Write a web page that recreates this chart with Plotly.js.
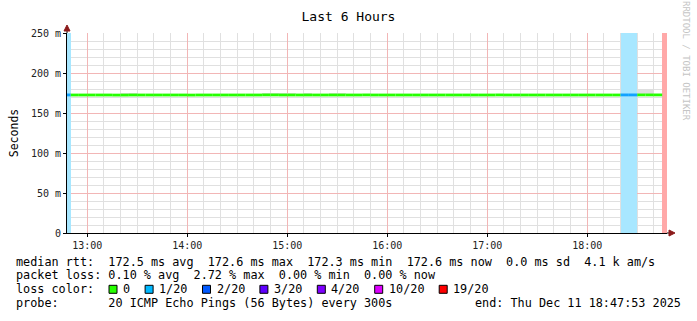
<!DOCTYPE html>
<html>
<head>
<meta charset="utf-8">
<script src="https://cdn.plot.ly/plotly-3.0.1.min.js"></script>
<style>html,body{margin:0;padding:0;background:#fff;}#chart{width:697px;height:321px;}</style>
</head>
<body>
<div id="chart"></div>
<script>
// ---- data ----
const day = '2025-12-11';
const stepEnd = [
  '12:50','12:55','13:00','13:05','13:10','13:15','13:20','13:25','13:30','13:35','13:40','13:45',
  '13:50','13:55','14:00','14:05','14:10','14:15','14:20','14:25','14:30','14:35','14:40','14:45',
  '14:50','14:55','15:00','15:05','15:10','15:15','15:20','15:25','15:30','15:35','15:40','15:45',
  '15:50','15:55','16:00','16:05','16:10','16:15','16:20','16:25','16:30','16:35','16:40','16:45',
  '16:50','16:55','17:00','17:05','17:10','17:15','17:20','17:25','17:30','17:35','17:40','17:45',
  '17:50','17:55','18:00','18:05','18:10','18:15','18:20','18:25','18:30','18:35','18:40','18:45',
  '18:50'
];
const medianMs = [
  172.6,172.5,172.5,172.5,172.5,172.5,172.4,172.4,172.5,172.5,172.5,172.5,
  172.5,172.5,172.5,172.4,172.5,172.5,172.5,172.5,172.5,172.5,172.5,172.5,
  172.6,172.6,172.5,172.5,172.5,172.5,172.5,172.5,172.5,172.5,172.5,172.5,
  172.6,172.5,172.5,172.5,172.5,172.5,172.5,172.5,172.5,172.5,172.5,172.5,
  172.5,172.5,172.5,172.5,172.6,172.5,172.5,172.5,172.5,172.5,172.5,172.5,
  172.5,172.5,172.5,172.5,172.5,172.5,172.5,172.6,172.6,172.6,172.6,172.6,
  null
];
const pingMinMs = [
  172.3,172.3,172.3,172.3,172.3,172.3,172.3,172.3,172.3,172.3,172.3,172.3,
  172.3,172.3,172.3,172.3,172.3,172.3,172.3,172.3,172.3,172.3,172.3,172.3,
  172.3,172.3,172.3,172.3,172.3,172.3,172.3,172.3,172.3,172.3,172.3,172.3,
  172.3,172.3,172.3,172.3,172.3,172.3,172.3,172.3,172.3,172.3,172.3,172.3,
  172.3,172.3,172.3,172.3,172.3,172.3,172.3,172.3,172.3,172.3,172.3,172.3,
  172.3,172.3,172.3,172.3,172.3,172.3,172.3,172.3,172.3,172.3,172.3,172.3,
  null
];
const pingMaxMs = [
  172.8,172.8,172.8,172.8,172.8,172.8,172.8,174.5,174.5,172.8,172.8,172.8,
  172.8,174.2,174.2,172.8,172.8,172.8,172.8,172.8,172.8,172.8,172.8,172.8,
  174.5,174.5,174.5,174.5,172.8,174.5,174.2,172.8,174.8,174.8,172.8,172.8,
  172.8,174.2,174.2,172.8,172.8,172.8,172.8,172.8,172.8,172.8,172.8,172.8,
  172.8,172.8,172.8,172.8,174.2,172.8,172.8,172.8,172.8,172.8,172.8,172.8,
  172.8,172.8,172.8,172.8,172.8,172.8,172.8,172.8,172.8,180.0,180.0,172.8,
  null
];
const lossCount = [
  1,0,0,0,0,0,0,0,0,0,0,0,
  0,0,0,0,0,0,0,0,0,0,0,0,
  0,0,0,0,0,0,0,0,0,0,0,0,
  0,0,0,0,0,0,0,0,0,0,0,0,
  0,0,0,0,0,0,0,0,0,0,0,0,
  0,0,0,0,0,0,0,1,1,0,0,0,
  19
];
const lossLevels = [0, 1, 2, 3, 4, 10, 19];
const lossLabels = ['0', '1/20', '2/20', '3/20', '4/20', '10/20', '19/20'];
const lossColors = ['#26ff00', '#00b8ff', '#0059ff', '#5e00ff', '#7e00ff', '#dd00ff', '#ff0000'];
const yTickVals = [0, 50, 100, 150, 200, 250];
const yTickText = ['0', '50 m', '100 m', '150 m', '200 m', '250 m'];
const legendLines = [
  'median rtt:  172.5 ms avg  172.6 ms max  172.3 ms min  172.6 ms now  0.0 ms sd  4.1 k am/s',
  'packet loss: 0.10 % avg  2.72 % max  0.00 % min  0.00 % now',
  'loss color:',
  'probe:       20 ICMP Echo Pings (56 Bytes) every 300s'
];
const endText = 'end: Thu Dec 11 18:47:53 2025';

// ---- helpers ----
const STEP = 300000;
function toMs(hm) { const p = hm.split(':'); return Date.UTC(2025, 11, 11, +p[0], +p[1]); }
function fmt(ms) {
  const d = new Date(ms);
  const z = n => String(n).padStart(2, '0');
  return d.getUTCFullYear() + '-' + z(d.getUTCMonth() + 1) + '-' + z(d.getUTCDate()) + ' ' +
    z(d.getUTCHours()) + ':' + z(d.getUTCMinutes()) + ':' + z(d.getUTCSeconds());
}
function lossIdx(c) { let k = 0; for (let i = 0; i < lossLevels.length; i++) if (c >= lossLevels[i]) k = i; return k; }
function tint(hex, a) {
  const r = parseInt(hex.substr(1, 2), 16), g = parseInt(hex.substr(3, 2), 16), b = parseInt(hex.substr(5, 2), 16);
  const f = v => Math.round(255 - a * (255 - v));
  return 'rgb(' + f(r) + ',' + f(g) + ',' + f(b) + ')';
}

const traces = [];

// loss background bars
const lb = { x: [], y: [], base: [], width: [], color: [] };
stepEnd.forEach((t, i) => {
  if (lossCount[i] > 0) {
    lb.x.push(fmt(toMs(t) - STEP / 2)); lb.y.push(250); lb.base.push(0); lb.width.push(STEP);
    lb.color.push(tint(lossColors[lossIdx(lossCount[i])], 0.34));
  }
});
traces.push({ type: 'bar', x: lb.x, y: lb.y, base: lb.base, width: lb.width,
  marker: { color: lb.color, line: { width: 0 } }, hoverinfo: 'skip', showlegend: false });

// smoke
const sm = { x: [], y: [], base: [], width: [] };
stepEnd.forEach((t, i) => {
  if (pingMinMs[i] != null && pingMaxMs[i] != null) {
    sm.x.push(fmt(toMs(t) - STEP / 2)); sm.base.push(pingMinMs[i]); sm.y.push(pingMaxMs[i] - pingMinMs[i]); sm.width.push(STEP);
  }
});
traces.push({ type: 'bar', x: sm.x, y: sm.y, base: sm.base, width: sm.width,
  marker: { color: '#dedede', line: { width: 0 } }, hoverinfo: 'skip', showlegend: false });

// median line segments coloured by loss
lossLevels.forEach((lv, k) => {
  const xs = [], ys = [];
  stepEnd.forEach((t, i) => {
    if (medianMs[i] == null || lossIdx(lossCount[i]) !== k) return;
    const e = toMs(t);
    xs.push(fmt(e - STEP), fmt(e), null); ys.push(medianMs[i], medianMs[i], null);
  });
  if (xs.length) traces.push({ type: 'scatter', mode: 'lines', x: xs, y: ys,
    line: { color: k === 1 ? '#12a2ff' : lossColors[k], width: 2.8 }, hoverinfo: 'skip', showlegend: false, connectgaps: false });
});

// ---- layout ----
const W = 697, H = 321, L = 67, R = 667, T = 33, B = 233;
const px = x => (x - L) / (R - L);
const py = y => (B - y) / (B - T);
const MONO = 'DejaVu Sans Mono';
const LF = 11.8;

const annotations = [];
const lineY = [261.5, 275.3, 289.3, 303.3];
legendLines.forEach((s, i) => {
  annotations.push({ xref: 'paper', yref: 'paper', x: px(14), y: py(lineY[i]), xanchor: 'left', yanchor: 'middle',
    text: s.replace(/ /g, '&nbsp;'), showarrow: false, font: { family: MONO, size: LF, color: '#000' } });
});
annotations.push({ xref: 'paper', yref: 'paper', x: px(683), y: py(lineY[3]), xanchor: 'right', yanchor: 'middle',
  text: endText, showarrow: false, font: { family: MONO, size: LF, color: '#000' } });
annotations.push({ xref: 'paper', yref: 'paper', x: px(686), y: py(61), xanchor: 'center', yanchor: 'middle', textangle: 90,
  text: 'RRDTOOL / TOBI OETIKER', showarrow: false, font: { family: MONO, size: 9, color: '#c4c4c4' } });

const shapes = [];
let bx = 109;
lossLabels.forEach((lab, i) => {
  shapes.push({ type: 'rect', xref: 'paper', yref: 'paper', x0: px(bx), x1: px(bx + 8), y0: py(lineY[2] - 4), y1: py(lineY[2] + 4),
    fillcolor: lossColors[i], line: { color: '#000', width: 1 } });
  const lx = bx + 12;
  annotations.push({ xref: 'paper', yref: 'paper', x: px(lx), y: py(lineY[2]), xanchor: 'left', yanchor: 'middle',
    text: lab, showarrow: false, font: { family: MONO, size: LF, color: '#000' } });
  bx = lx + 7.1 * lab.length + 17;
});
// axis arrows
shapes.push({ type: 'line', xref: 'paper', yref: 'paper', x0: px(667), x1: px(671), y0: 0, y1: 0, line: { color: '#000', width: 1 } });
shapes.push({ type: 'path', xref: 'paper', yref: 'paper',
  path: 'M ' + px(669) + ' ' + py(230) + ' L ' + px(675) + ' ' + py(233) + ' L ' + px(669) + ' ' + py(236) + ' Z',
  fillcolor: '#8b1a1a', line: { color: '#8b1a1a', width: 1 } });
shapes.push({ type: 'line', xref: 'paper', yref: 'paper', x0: 0, x1: 0, y0: 1, y1: py(30), line: { color: '#000', width: 1 } });
shapes.push({ type: 'path', xref: 'paper', yref: 'paper',
  path: 'M ' + px(64) + ' ' + py(31) + ' L ' + px(67) + ' ' + py(25) + ' L ' + px(70) + ' ' + py(31) + ' Z',
  fillcolor: '#8b1a1a', line: { color: '#8b1a1a', width: 1 } });

const layout = {
  width: W, height: H,
  margin: { l: L, r: W - R, t: T, b: H - B, pad: 0 },
  paper_bgcolor: '#fff', plot_bgcolor: '#fff',
  barmode: 'overlay', bargap: 0,
  showlegend: false,
  font: { family: MONO, color: '#000' },
  title: { text: 'Last 6 Hours', x: 0.5, xref: 'container', xanchor: 'center', y: 1 - 16 / H, yref: 'container', yanchor: 'middle',
    font: { family: MONO, size: 13, color: '#000' } },
  xaxis: {
    type: 'date', range: [day + ' 12:47:53', day + ' 18:47:53'],
    tickmode: 'linear', tick0: day + ' 13:00:00', dtick: 3600000, tickformat: '%H:%M',
    showgrid: true, gridcolor: '#f2b6b6', gridwidth: 1,
    minor: { tickmode: 'linear', tick0: day + ' 13:00:00', dtick: 600000, showgrid: true, gridcolor: '#e0e0e0', gridwidth: 1, ticks: '' },
    showline: true, linecolor: '#000', linewidth: 1,
    ticks: 'outside', ticklen: 3, tickcolor: '#000',
    tickfont: { family: MONO, size: 10, color: '#222' },
    zeroline: false, fixedrange: true
  },
  yaxis: {
    range: [0, 250], tickmode: 'array', tickvals: yTickVals, ticktext: yTickText,
    showgrid: true, gridcolor: '#f2b6b6', gridwidth: 1,
    minor: { tickmode: 'linear', tick0: 0, dtick: 10, showgrid: true, gridcolor: '#e0e0e0', gridwidth: 1, ticks: '' },
    showline: true, linecolor: '#000', linewidth: 1,
    ticks: 'outside', ticklen: 3, tickcolor: '#000',
    tickfont: { family: MONO, size: 10, color: '#222' },
    title: { text: 'Seconds', standoff: 9, font: { family: MONO, size: 11.5, color: '#000' } },
    zeroline: false, fixedrange: true
  },
  annotations: annotations,
  shapes: shapes
};

Plotly.newPlot('chart', traces, layout, { staticPlot: true, displayModeBar: false });
</script>
</body>
</html>
